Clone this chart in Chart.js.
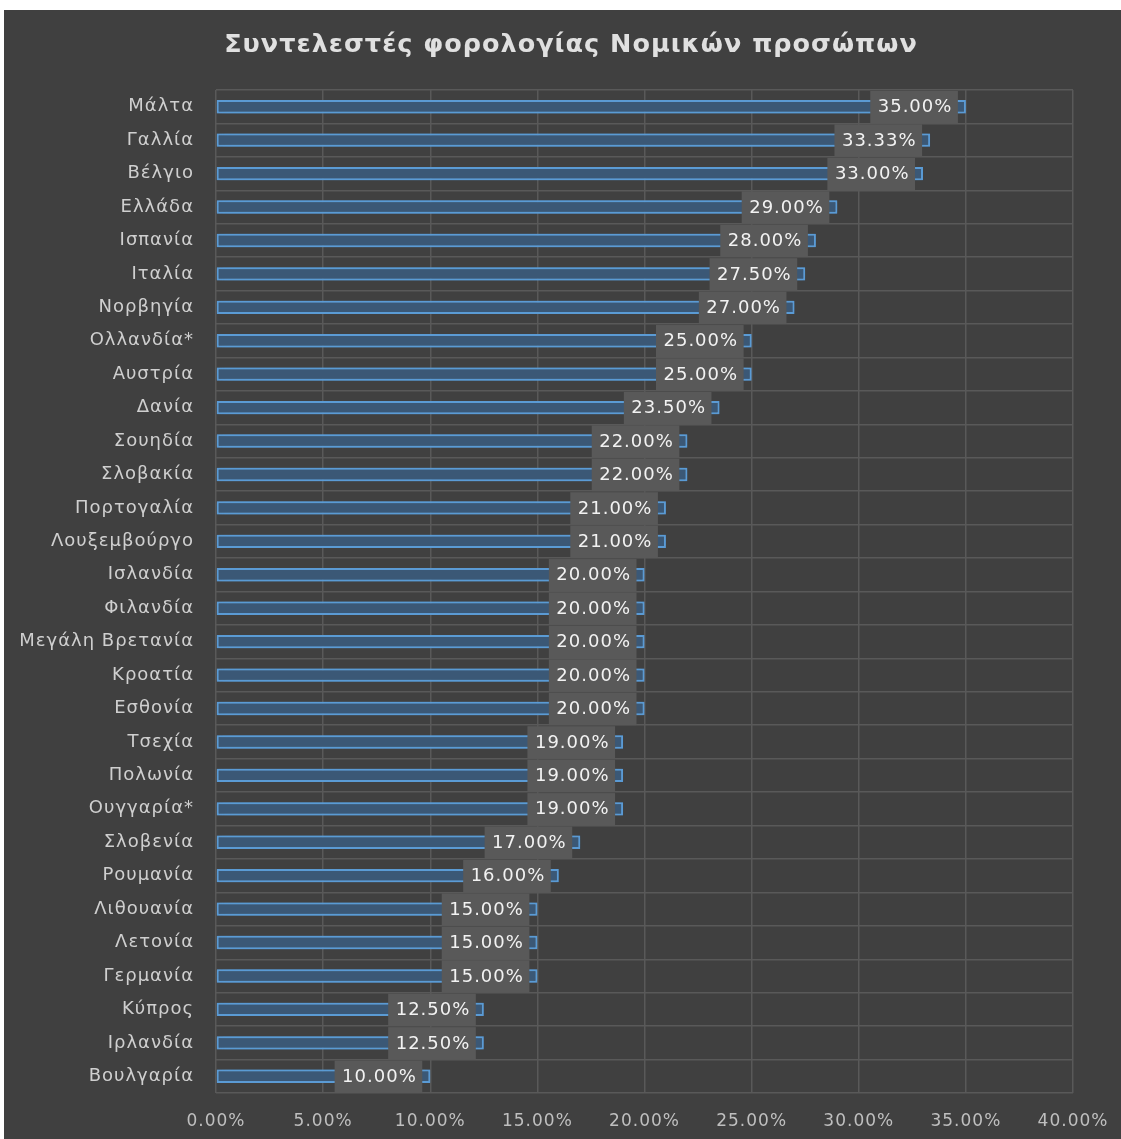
<!DOCTYPE html>
<html>
<head>
<meta charset="utf-8">
<script src="https://cdn.jsdelivr.net/npm/chart.js@4"></script>
<style>
  html, body { margin: 0; padding: 0; background: #ffffff; }
  #wrap { position: absolute; left: 4px; top: 10px; width: 1117px; height: 1129px; background: #404040; }
</style>
</head>
<body>
<div id="wrap"><canvas id="taxChart" width="1117" height="1129"></canvas></div>
<script>
// Corporate tax rates by country (%)
const countries = ['Μάλτα', 'Γαλλία', 'Βέλγιο', 'Ελλάδα', 'Ισπανία', 'Ιταλία', 'Νορβηγία',
  'Ολλανδία*', 'Αυστρία', 'Δανία', 'Σουηδία', 'Σλοβακία', 'Πορτογαλία', 'Λουξεμβούργο',
  'Ισλανδία', 'Φιλανδία', 'Μεγάλη Βρετανία', 'Κροατία', 'Εσθονία', 'Τσεχία', 'Πολωνία',
  'Ουγγαρία*', 'Σλοβενία', 'Ρουμανία', 'Λιθουανία', 'Λετονία', 'Γερμανία', 'Κύπρος',
  'Ιρλανδία', 'Βουλγαρία'];
const rates = [35, 33.33, 33, 29, 28, 27.5, 27, 25, 25, 23.5, 22, 22, 21, 21,
  20, 20, 20, 20, 20, 19, 19, 19, 17, 16, 15, 15, 15, 12.5, 12.5, 10];
const axisMin = 0;
const axisMax = 40;
const axisStep = 5;
const chartTitle = 'Συντελεστές φορολογίας Νομικών προσώπων';

const pct = v => v.toFixed(2) + '%';

// the text in this chart is set a little wide
const spacing = {
  id: 'spacing',
  beforeUpdate(chart) { chart.ctx.letterSpacing = '1px'; },
  beforeDraw(chart) { chart.ctx.letterSpacing = '1px'; }
};

// title drawn by hand so it sits where we want it
const titleText = {
  id: 'titleText',
  afterDraw(chart) {
    const ctx = chart.ctx;
    ctx.save();
    ctx.letterSpacing = '1px';
    ctx.font = 'bold 25.5px "DejaVu Sans"';
    ctx.fillStyle = '#e0e0e0';
    ctx.textAlign = 'center';
    ctx.textBaseline = 'middle';
    ctx.fillText(chartTitle, 567, 35);
    ctx.restore();
  }
};

// soft blue glow around the bars
const glowPlugin = {
  id: 'barGlow',
  beforeDatasetsDraw(chart) {
    const ctx = chart.ctx;
    ctx.save();
    ctx.shadowColor = 'rgba(91, 155, 213, 0.9)';
    ctx.shadowBlur = 11;
  },
  afterDatasetsDraw(chart) {
    chart.ctx.restore();
  }
};

// grey value boxes sitting at the end of each bar
const valueBoxes = {
  id: 'valueBoxes',
  afterDatasetsDraw(chart) {
    const ctx = chart.ctx;
    const meta = chart.getDatasetMeta(0);
    const yScale = chart.scales.y;
    const rowH = yScale.height / countries.length;
    ctx.save();
    ctx.font = '18px "DejaVu Sans"';
    ctx.textAlign = 'center';
    ctx.textBaseline = 'middle';
    meta.data.forEach((bar, i) => {
      const text = pct(rates[i]);
      const w = ctx.measureText(text).width + 13;
      const right = bar.x - 8;
      ctx.fillStyle = '#595959';
      ctx.fillRect(right - w, bar.y - rowH / 2 + 1, w, rowH - 1);
      ctx.fillStyle = '#f2f2f2';
      ctx.fillText(text, right - w / 2 + 1, bar.y + 1);
    });
    ctx.restore();
  }
};

new Chart(document.getElementById('taxChart').getContext('2d'), {
  type: 'bar',
  data: {
    labels: countries,
    datasets: [{
      data: rates,
      backgroundColor: '#3b5876',
      borderColor: '#5b9bd5',
      borderWidth: 2,
      borderSkipped: false,
      barPercentage: 0.4,
      categoryPercentage: 1
    }]
  },
  options: {
    indexAxis: 'y',
    responsive: false,
    animation: false,
    layout: { padding: { top: 80, right: 48, bottom: 8, left: 0 } },
    plugins: {
      legend: { display: false },
      tooltip: { enabled: false },
      title: { display: false }
    },
    scales: {
      x: {
        min: axisMin,
        max: axisMax,
        ticks: {
          stepSize: axisStep,
          padding: 18,
          color: '#bfbfbf',
          font: { family: '"DejaVu Sans"', size: 17 },
          callback: v => pct(v)
        },
        grid: { color: '#595959', lineWidth: 1.5, drawTicks: false },
        border: { display: false },
        afterFit(scale) {
          scale.height = 38;
          scale.paddingLeft = 0;
          scale.paddingRight = 0;
        }
      },
      y: {
        ticks: {
          padding: 22,
          color: '#cfcfcf',
          font: { family: '"DejaVu Sans"', size: 18 },
          autoSkip: false
        },
        grid: { color: '#595959', lineWidth: 1.5, drawTicks: false, offset: true },
        border: { display: false },
        afterFit(scale) {
          scale.width = 212;
          scale.paddingTop = 0;
          scale.paddingBottom = 0;
        }
      }
    }
  },
  plugins: [spacing, titleText, glowPlugin, valueBoxes]
});
</script>
</body>
</html>
